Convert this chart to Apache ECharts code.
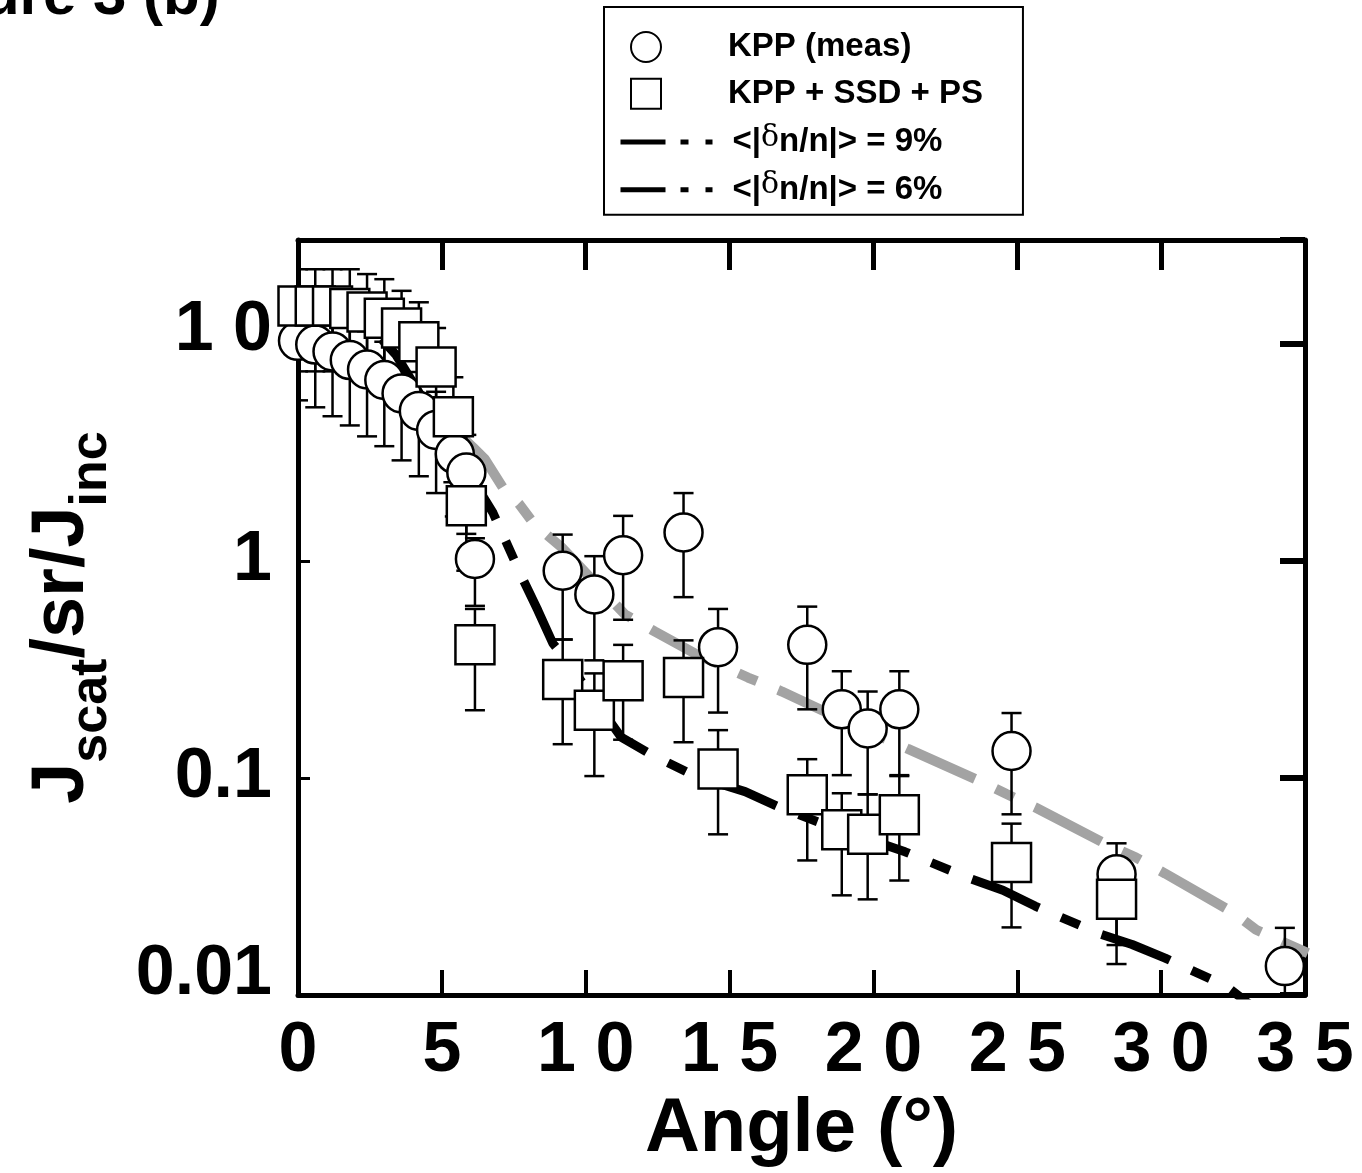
<!DOCTYPE html>
<html>
<head>
<meta charset="utf-8">
<script src="https://cdn.jsdelivr.net/npm/echarts@6/dist/echarts.min.js"></script>
<style>
  html, body { margin: 0; padding: 0; background: #fff; }
  #chart { width: 1362px; height: 1173px; }
</style>
</head>
<body>
<div id="chart"></div>
<script>
// ---------------- data ----------------
// KPP (meas) : circles
const measAngle = [0, 0.6, 1.2, 1.8, 2.4, 3.0, 3.6, 4.2, 4.8, 5.45, 5.85, 6.15, 9.2, 10.3, 11.3, 13.4, 14.6, 17.7, 18.9, 19.8, 20.9, 24.8, 28.45, 34.3];
const measVal   = [10.3, 9.9, 9.2, 8.4, 7.6, 6.8, 5.9, 4.9, 4.0, 3.1, 2.55, 1.02, 0.9, 0.7, 1.06, 1.35, 0.4, 0.41, 0.207, 0.169, 0.207, 0.133, 0.036, 0.0136];
const measHi    = [15.5, 14.9, 13.8, 12.6, 11.4, 10.2, 8.9, 7.4, 6.0, 4.7, 3.8, 1.27, 1.32, 1.05, 1.61, 2.05, 0.6, 0.615, 0.31, 0.25, 0.31, 0.199, 0.05, 0.0204];
const measLo    = [5.48, 5.09, 4.63, 4.2, 3.74, 3.37, 2.9, 2.45, 2.05, 1.6, 1.33, 0.62, 0.434, 0.348, 0.535, 0.68, 0.2, 0.207, 0.103, 0.084, 0.102, 0.068, 0.017, 0.009];

// KPP + SSD + PS : squares
const ssdAngle = [0, 0.6, 1.2, 1.8, 2.4, 3.0, 3.6, 4.2, 4.8, 5.4, 5.85, 6.15, 9.2, 10.3, 11.3, 13.4, 14.6, 17.7, 18.9, 19.8, 20.9, 24.8, 28.45];
const ssdVal   = [14.9, 14.9, 14.9, 14.5, 14.0, 13.1, 11.8, 10.2, 7.8, 4.6, 1.79, 0.41, 0.284, 0.205, 0.28, 0.29, 0.11, 0.0836, 0.0577, 0.055, 0.0676, 0.0408, 0.0276];
const ssdHi    = [22, 22, 22, 22, 20.9, 19.8, 17.5, 15.5, 11.8, 7.0, 2.7, 0.6, 0.434, 0.303, 0.41, 0.43, 0.166, 0.122, 0.085, 0.084, 0.103, 0.0616, 0.042];
const ssdLo    = [7.45, 7.45, 7.45, 7.25, 7.0, 6.5, 5.9, 5.1, 3.9, 2.3, 0.9, 0.205, 0.143, 0.102, 0.15, 0.146, 0.055, 0.0417, 0.0288, 0.0276, 0.0337, 0.0205, 0.0139];

// <|dn/n|> = 9% : grey dash-dot curve
const line9Angle = [5.45, 6.08, 6.5, 7.13, 7.68, 8.2, 9.14, 11.37, 12.41, 13.87, 15.64, 16.82, 18.21, 21.2, 23.6, 24.61, 25.65, 27.98, 29.13, 30.14, 32.53, 33.3, 35.1];
const line9Val   = [4.0, 3.33, 2.93, 2.16, 1.83, 1.48, 1.16, 0.565, 0.472, 0.37, 0.29, 0.25, 0.205, 0.136, 0.098, 0.0845, 0.0729, 0.0504, 0.043, 0.0363, 0.0239, 0.02, 0.0156];

// <|dn/n|> = 6% : black dash-dot curve
const line6Angle = [2.9, 3.4, 6.78, 7.79, 8.34, 8.86, 9.25, 11.23, 12.24, 13.8, 15.54, 16.68, 18.14, 21.1, 23.36, 24.5, 25.62, 27.88, 28.99, 30.14, 32.26, 33.2];
const line6Val   = [10.5, 8.9, 1.66, 0.836, 0.59, 0.416, 0.36, 0.154, 0.129, 0.102, 0.0865, 0.0738, 0.0622, 0.0457, 0.0344, 0.0304, 0.0257, 0.0191, 0.0171, 0.0148, 0.011, 0.0088];

// tick labels
const xTickLabels = ['0', '5', '1 0', '1 5', '2 0', '2 5', '3 0', '3 5'];
const yTickValues = [0.01, 0.1, 1, 10];
const yTickLabels = ['0.01', '0.1', '1', '1 0'];

const seriesNames = ['KPP (meas)', 'KPP + SSD + PS', '<|δn/n|> = 9%', '<|δn/n|> = 6%'];

// ---------------- chart ----------------
const FONT = '"Liberation Sans", Arial, Helvetica, sans-serif';
const NARROW = '"Liberation Sans Narrow", "Arial Narrow", "Liberation Sans", Arial, sans-serif';

const zip = (a, b) => a.map((v, i) => [v, b[i]]);
const zip3 = (a, b, c) => a.map((v, i) => [v, b[i], c[i]]);

function errRender(params, api) {
  const x = api.value(0), lo = api.value(1), hi = api.value(2);
  const pLo = api.coord([x, lo]);
  const pHi = api.coord([x, hi]);
  const cw = 10;
  const st = { stroke: '#000', lineWidth: 2.5 };
  return {
    type: 'group',
    children: [
      { type: 'line', shape: { x1: pLo[0], y1: pLo[1], x2: pHi[0], y2: pHi[1] }, style: st },
      { type: 'line', shape: { x1: pLo[0] - cw, y1: pLo[1], x2: pLo[0] + cw, y2: pLo[1] }, style: st },
      { type: 'line', shape: { x1: pHi[0] - cw, y1: pHi[1], x2: pHi[0] + cw, y2: pHi[1] }, style: st }
    ]
  };
}

function yLabel(v) {
  const e = Math.round(Math.log10(v));
  const idx = yTickValues.findIndex(t => Math.round(Math.log10(t)) === e);
  if (idx < 0 || Math.abs(Math.log10(v) - e) > 1e-6) return '';
  if (idx === 0) return '{lo|' + yTickLabels[idx] + '}';
  if (idx === yTickValues.length - 1) return '{hi|' + yTickLabels[idx] + '}';
  return '{n|' + yTickLabels[idx] + '}';
}

const tickLabelStyle = { fontSize: 70, fontWeight: 'bold', fontFamily: NARROW, color: '#000' };
const frameLine = { onZero: false, lineStyle: { color: '#000', width: 5 } };
const hiddenSymbol = { opacity: 0 };

const chart = echarts.init(document.getElementById('chart'), null, { renderer: 'canvas' });

const option = {
  backgroundColor: '#fff',
  animation: false,
  title: {
    text: 'Figure 3 (b)',
    left: -112,
    top: -38,
    textStyle: { fontSize: 60, fontWeight: 'bold', fontFamily: FONT, color: '#000' }
  },
  grid: { left: 298, top: 240, right: 57, bottom: 176, containLabel: false },
  legend: [
    {
      data: [seriesNames[0], seriesNames[1]],
      orient: 'vertical',
      left: 604, top: 7,
      padding: [22, 40, 103, 26],
      itemWidth: 30, itemHeight: 30, itemGap: 10.7,
      borderColor: '#000', borderWidth: 2,
      selectedMode: false,
      textStyle: { fontSize: 33, fontWeight: 'bold', fontFamily: FONT, color: '#000', lineHeight: 36, padding: [0, 0, 0, 62] }
    },
    {
      data: [
        { name: seriesNames[2], itemStyle: hiddenSymbol, lineStyle: { color: '#000', width: 5, type: [45, 15, 8, 17] } },
        { name: seriesNames[3], itemStyle: hiddenSymbol, lineStyle: { color: '#000', width: 5, type: [45, 15, 8, 17] } }
      ],
      orient: 'vertical',
      left: 618, top: 123,
      padding: 0,
      itemWidth: 92, itemHeight: 14, itemGap: 10.7,
      selectedMode: false,
      formatter: n => n.replace('δ', '{d|δ}'),
      textStyle: {
        fontSize: 33, fontWeight: 'bold', fontFamily: FONT, color: '#000', lineHeight: 36, padding: [0, 0, 0, 15],
        rich: { d: { fontSize: 30, fontWeight: 'normal', fontFamily: '"DejaVu Serif", "Liberation Serif", serif', color: '#000', padding: [0, 0, 8, 0] } }
      }
    }
  ],
  xAxis: [
    {
      type: 'value', min: 0, max: 35, interval: 5, position: 'bottom',
      axisLine: frameLine,
      axisTick: { inside: true, length: 25, lineStyle: { color: '#000', width: 4 } },
      splitLine: { show: false },
      axisLabel: Object.assign({ margin: 22, formatter: v => xTickLabels[Math.round(v / 5)] || '' }, tickLabelStyle),
      name: 'Angle (°)', nameLocation: 'middle', nameGap: 90,
      nameTextStyle: { fontSize: 76, fontWeight: 'bold', fontFamily: FONT, color: '#000' }
    },
    {
      type: 'value', min: 0, max: 35, interval: 5, position: 'top',
      axisLine: frameLine,
      axisTick: { inside: true, length: 30, lineStyle: { color: '#000', width: 5 } },
      splitLine: { show: false },
      axisLabel: { show: false }
    }
  ],
  yAxis: [
    {
      type: 'log', logBase: 10, min: 0.01, max: 30, position: 'left',
      axisLine: frameLine,
      axisTick: { inside: true, length: 12, lineStyle: { color: '#000', width: 3 } },
      splitLine: { show: false },
      axisLabel: Object.assign({
        margin: 26, formatter: yLabel,
        rich: {
          n: Object.assign({}, tickLabelStyle),
          lo: Object.assign({ padding: [0, 0, 40, 0] }, tickLabelStyle),
          hi: Object.assign({ padding: [0, 0, 26, 0] }, tickLabelStyle)
        }
      }, tickLabelStyle),
      name: '{m|J}{s|scat}{m|/sr/J}{s|inc}',
      nameLocation: 'middle', nameRotate: 90, nameGap: 198,
      nameTextStyle: {
        rich: {
          m: { fontSize: 74, fontWeight: 'bold', fontFamily: FONT, color: '#000', lineHeight: 74, verticalAlign: 'top' },
          s: { fontSize: 52, fontWeight: 'bold', fontFamily: FONT, color: '#000', lineHeight: 52, padding: [40, 0, 0, 0], verticalAlign: 'top' }
        }
      }
    },
    {
      type: 'log', logBase: 10, min: 0.01, max: 30, position: 'right',
      axisLine: frameLine,
      axisTick: { inside: true, length: 25, lineStyle: { color: '#000', width: 6 } },
      splitLine: { show: false },
      axisLabel: { show: false }
    }
  ],
  series: [
    {
      name: seriesNames[2], type: 'line', z: 1, symbol: 'none', showSymbol: false,
      data: zip(line9Angle, line9Val),
      lineStyle: { color: '#a3a3a3', width: 10, type: [75, 23, 20, 23], cap: 'butt' },
      itemStyle: { color: '#000' }
    },
    {
      name: seriesNames[3], type: 'line', z: 1, symbol: 'none', showSymbol: false,
      data: zip(line6Angle, line6Val),
      lineStyle: { color: '#000', width: 9, type: [73, 24, 20, 24], cap: 'butt' },
      itemStyle: { color: '#000' }
    },
    {
      name: 'meas-err', type: 'custom', z: 2, clip: true,
      renderItem: errRender,
      data: zip3(measAngle, measLo, measHi)
    },
    {
      name: 'ssd-err', type: 'custom', z: 2, clip: true,
      renderItem: errRender,
      data: zip3(ssdAngle, ssdLo, ssdHi)
    },
    {
      name: seriesNames[0], type: 'scatter', z: 3, symbol: 'circle', symbolSize: 38,
      data: zip(measAngle, measVal),
      itemStyle: { color: '#fff', borderColor: '#000', borderWidth: 2.5, opacity: 1 }
    },
    {
      name: seriesNames[1], type: 'scatter', z: 4, symbol: 'rect', symbolSize: 39,
      data: zip(ssdAngle, ssdVal),
      itemStyle: { color: '#fff', borderColor: '#000', borderWidth: 2.5, opacity: 1 }
    }
  ]
};

chart.setOption(option);
</script>
</body>
</html>
